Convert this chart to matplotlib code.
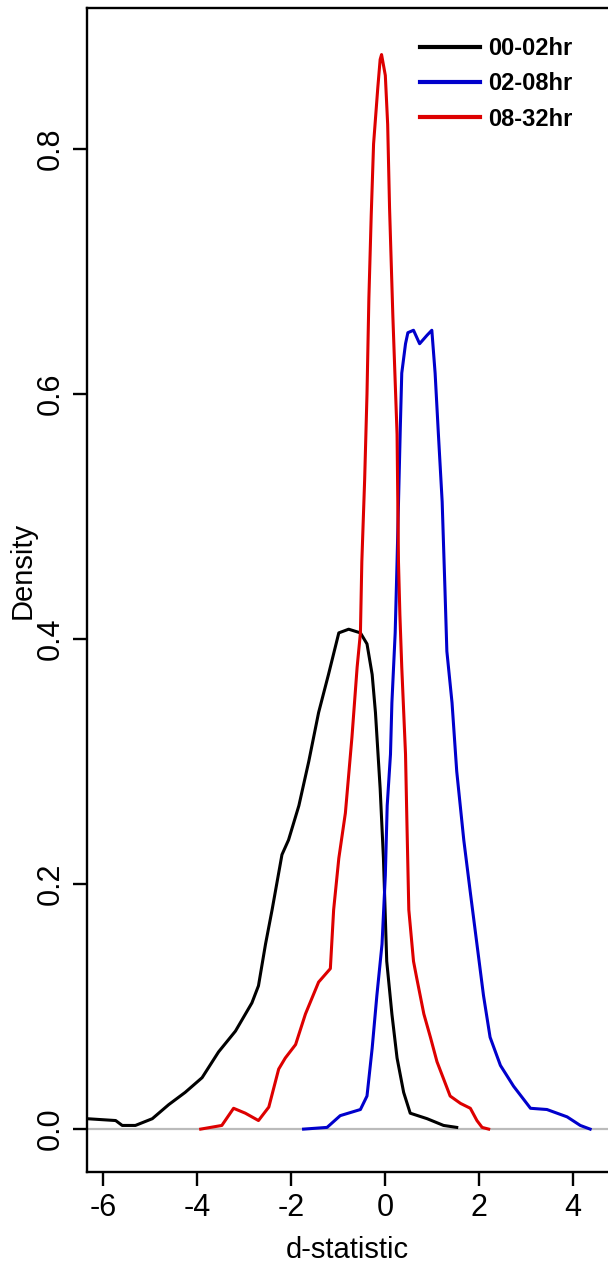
import matplotlib
matplotlib.use('Agg')
from matplotlib import pyplot as plt

plt.rcParams['font.family'] = ['Liberation Sans', 'DejaVu Sans']
plt.rcParams['axes.unicode_minus'] = False

# d-statistic density curves
x_00_02 = [-6.35, -5.74, -5.60, -5.32, -4.96, -4.61, -4.26, -3.90, -3.55, -3.19,
           -2.84, -2.70, -2.55, -2.41, -2.20, -2.06, -1.84, -1.63, -1.42, -1.21,
           -0.99, -0.78, -0.53, -0.39, -0.28, -0.21, -0.11, -0.04, 0.03, 0.14,
           0.25, 0.39, 0.53, 0.89, 1.24, 1.52]
y_00_02 = [0.0085, 0.007, 0.003, 0.003, 0.0085, 0.020, 0.030, 0.042, 0.063, 0.080,
           0.103, 0.117, 0.151, 0.179, 0.224, 0.236, 0.264, 0.300, 0.340, 0.371,
           0.405, 0.408, 0.405, 0.396, 0.371, 0.340, 0.278, 0.221, 0.137, 0.094,
           0.058, 0.030, 0.013, 0.0085, 0.003, 0.0014]

x_02_08 = [-1.74, -1.24, -0.96, -0.53, -0.39, -0.28, -0.18, -0.07, 0.00, 0.04,
           0.11, 0.14, 0.21, 0.25, 0.32, 0.35, 0.43, 0.48, 0.60, 0.73,
           0.89, 0.99, 1.06, 1.13, 1.21, 1.27, 1.31, 1.42, 1.52, 1.67,
           1.81, 1.95, 2.09, 2.23, 2.45, 2.73, 3.09, 3.44, 3.87, 4.15, 4.36]
y_02_08 = [0.0, 0.0014, 0.011, 0.016, 0.027, 0.066, 0.109, 0.151, 0.207, 0.264,
           0.306, 0.348, 0.405, 0.463, 0.574, 0.617, 0.641, 0.650, 0.652, 0.641,
           0.648, 0.652, 0.617, 0.567, 0.512, 0.440, 0.390, 0.348, 0.292, 0.236,
           0.193, 0.151, 0.109, 0.075, 0.052, 0.035, 0.017, 0.016, 0.010, 0.003, 0.0]

x_08_32 = [-3.93, -3.48, -3.23, -2.98, -2.70, -2.48, -2.27, -2.13, -1.91, -1.70,
           -1.42, -1.17, -1.10, -0.99, -0.85, -0.71, -0.60, -0.53, -0.50, -0.44,
           -0.39, -0.35, -0.30, -0.25, -0.16, -0.11, -0.08, 0.00, 0.05, 0.09,
           0.16, 0.25, 0.28, 0.31, 0.35, 0.43, 0.46, 0.50, 0.60, 0.67,
           0.82, 0.96, 1.10, 1.24, 1.38, 1.60, 1.81, 1.95, 2.06, 2.20]
y_08_32 = [0.0, 0.003, 0.017, 0.013, 0.007, 0.018, 0.049, 0.058, 0.069, 0.094,
           0.120, 0.131, 0.179, 0.221, 0.258, 0.320, 0.377, 0.405, 0.463, 0.530,
           0.600, 0.678, 0.746, 0.804, 0.850, 0.873, 0.877, 0.860, 0.820, 0.752,
           0.664, 0.567, 0.463, 0.420, 0.377, 0.306, 0.250, 0.179, 0.137, 0.123,
           0.094, 0.075, 0.055, 0.041, 0.027, 0.021, 0.017, 0.007, 0.0014, 0.0]

labels = ['00-02hr', '02-08hr', '08-32hr']
colors = ['#000000', '#0000cc', '#dd0000']
x_ticks = [-6, -4, -2, 0, 2, 4]
y_ticks = [0.0, 0.2, 0.4, 0.6, 0.8]

fig = plt.figure(figsize=(6.08, 12.68), dpi=100)
ax = fig.add_axes([87/608, 96/1268, 1 - 87/608, 1164/1268])

ax.axhline(0, color='#bbbbbb', lw=1.6, zorder=1)
ax.plot(x_00_02, y_00_02, color=colors[0], lw=2.2, label=labels[0], zorder=2)
ax.plot(x_02_08, y_02_08, color=colors[1], lw=2.2, label=labels[1], zorder=3)
ax.plot(x_08_32, y_08_32, color=colors[2], lw=2.2, label=labels[2], zorder=4)

ax.set_xlim(-6.35, 4.74)
ax.set_ylim(-0.035, 0.915)

ax.spines['right'].set_visible(False)
for s in ['left', 'top', 'bottom']:
    ax.spines[s].set_linewidth(1.7)

ax.set_xticks(x_ticks)
ax.set_xticklabels([str(t) for t in x_ticks])
ax.set_yticks(y_ticks)
ax.set_yticklabels(['%.1f' % t for t in y_ticks], rotation=90, va='center')
ax.tick_params(axis='both', length=10, width=1.7, labelsize=22)
ax.tick_params(axis='x', pad=5)
ax.tick_params(axis='y', pad=5)

ax.set_xlabel('d-statistic', fontsize=21, va='center')
ax.set_ylabel('Density', fontsize=21, va='center')
ax.xaxis.set_label_coords(0.5, -0.067)
ax.yaxis.set_label_coords(-0.1228, 0.517)

leg = ax.legend(loc='upper left', bbox_to_anchor=(420/608, 1 - 37/1268),
                bbox_transform=fig.transFigure, frameon=False,
                handlelength=2.54, handletextpad=0.34, labelspacing=0.52,
                borderpad=0, borderaxespad=0, prop={'size': 17, 'weight': 'bold'})
for line in leg.get_lines():
    line.set_linewidth(3.0)

fig.savefig('out.png', dpi=100)
